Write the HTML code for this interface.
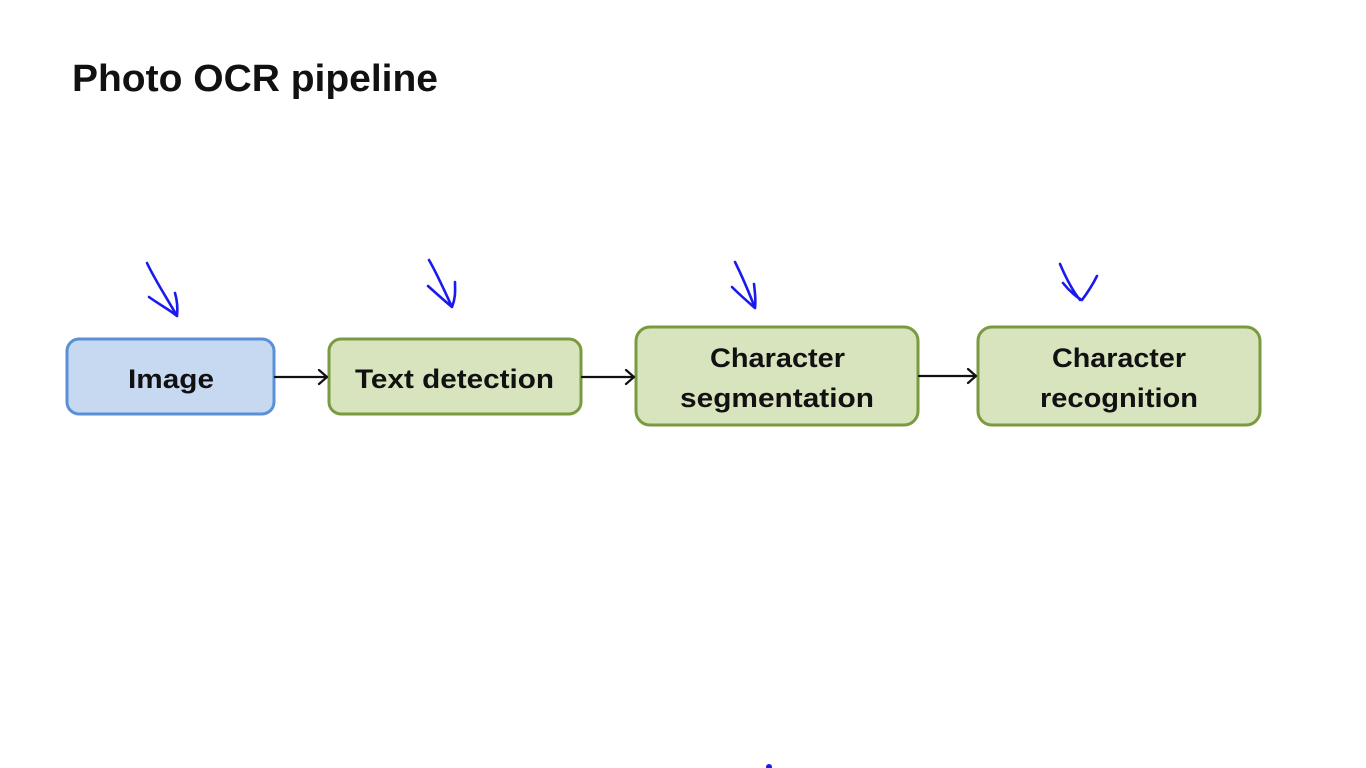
<!DOCTYPE html>
<html><head><meta charset="utf-8"><style>
html,body{margin:0;padding:0;background:#fff;width:1366px;height:768px;overflow:hidden}
svg{display:block}
text{font-family:"Liberation Sans",sans-serif;font-weight:bold;fill:#111}
</style></head><body>
<svg width="1366" height="768" viewBox="0 0 1366 768">
<text x="72" y="91" font-size="38" textLength="366" lengthAdjust="spacingAndGlyphs">Photo OCR pipeline</text>
<g stroke-width="3">
<rect x="67" y="339" width="207" height="75" rx="12" fill="#c6d9f1" stroke="#5b8fd6"/>
<rect x="329" y="339" width="252" height="75" rx="12" fill="#d7e4bd" stroke="#7a9a3f"/>
<rect x="636" y="327" width="282" height="98" rx="14" fill="#d7e4bd" stroke="#7a9a3f"/>
<rect x="978" y="327" width="282" height="98" rx="14" fill="#d7e4bd" stroke="#7a9a3f"/>
</g>
<g font-size="27">
<text x="128" y="388" textLength="86" lengthAdjust="spacingAndGlyphs">Image</text>
<text x="355" y="388" textLength="199" lengthAdjust="spacingAndGlyphs">Text detection</text>
<text x="710" y="367" textLength="135" lengthAdjust="spacingAndGlyphs">Character</text>
<text x="680" y="407" textLength="194" lengthAdjust="spacingAndGlyphs">segmentation</text>
<text x="1052" y="367" textLength="134" lengthAdjust="spacingAndGlyphs">Character</text>
<text x="1040" y="407" textLength="158" lengthAdjust="spacingAndGlyphs">recognition</text>
</g>
<g stroke="#111" stroke-width="2.2" fill="none" stroke-linecap="round" stroke-linejoin="round">
<path d="M275 377 H327 M319 370 L327 377 L319 384"/>
<path d="M582 377 H634 M626 370 L634 377 L626 384"/>
<path d="M919 376 H976 M968 369 L976 376 L968 383"/>
</g>
<g stroke="#1a1aee" stroke-width="2.6" fill="none" stroke-linecap="round" stroke-linejoin="round">
<path d="M147 263 C155 280 165 295 177 316 M149 297 C160 305 170 310 177 316 C178 307 177 300 175 293"/>
<path d="M429 260 C436 272 442 285 452 307 M428 286 C438 295 446 302 452 307 C456 297 455 290 455 282"/>
<path d="M735 262 C742 276 748 290 755 308 M732 287 C740 295 748 302 755 308 C756 300 755 292 754 284"/>
<path d="M1060 264 C1066 278 1072 290 1080 300 M1063 283 C1070 292 1078 298 1082 300 C1088 292 1093 284 1097 276"/>
</g>
<circle cx="769" cy="767" r="3" fill="#1a1aee"/>
</svg>
</body></html>
